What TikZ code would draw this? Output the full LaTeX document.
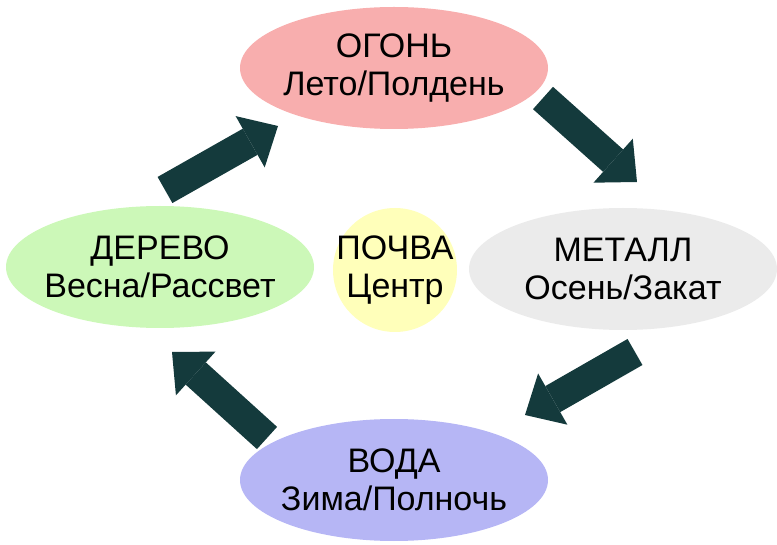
\documentclass[tikz,border=0pt]{standalone}
\usepackage{fontspec}
\setmainfont{Liberation Sans}
\usetikzlibrary{shapes.geometric,arrows.meta}

\definecolor{firepink}{RGB}{248,174,174}
\definecolor{woodgreen}{RGB}{204,248,184}
\definecolor{metalgray}{RGB}{235,235,235}
\definecolor{waterblue}{RGB}{182,182,245}
\definecolor{soilyellow}{RGB}{255,255,186}
\definecolor{arrowteal}{RGB}{20,58,60}

\tikzset{
	phase/.style={ellipse, minimum width=308pt, minimum height=122pt, inner sep=-10pt,
		font=\fontsize{34}{38}\selectfont, align=center},
	soilball/.style={circle, minimum size=124pt, inner sep=-10pt, fill=soilyellow,
		font=\fontsize{34}{38}\selectfont, align=center},
	flow/.style={draw=arrowteal, line width=30pt,
		-{Triangle[width=59pt,length=32pt,line width=0pt]}},
}

\begin{document}
\begin{tikzpicture}[x=1pt,y=-1pt]

	\useasboundingbox (0,0) rectangle (777,545);

	\coordinate (F) at (394,68);
	\coordinate (W) at (160,267);
	\coordinate (M) at (623,269);
	\coordinate (V) at (394,480);
	\coordinate (S) at (395,270);

	% arrow ends
	\coordinate (t1) at (165,190);
	\coordinate (h1) at (278,126);
	\coordinate (t2) at (543,98);
	\coordinate (h2) at (637,182);
	\coordinate (t3) at (635,352);
	\coordinate (h3) at (525,415);
	\coordinate (t4) at (267,438);
	\coordinate (h4) at (172,352);

	\draw[flow] (t1) -- (h1);
	\draw[flow] (t2) -- (h2);
	\draw[flow] (t3) -- (h3);
	\draw[flow] (t4) -- (h4);

	\node[phase, fill=firepink] (fire) at (F) {ОГОНЬ\\Лето/Полдень};
	\node[phase, fill=woodgreen] (wood) at (W) {ДЕРЕВО\\Весна/Рассвет};
	\node[phase, fill=metalgray] (metal) at (M) {МЕТАЛЛ\\Осень/Закат};
	\node[phase, fill=waterblue] (water) at (V) {ВОДА\\Зима/Полночь};
	\node[soilball] (soil) at (S) {ПОЧВА\\Центр};

\end{tikzpicture}
\end{document}
